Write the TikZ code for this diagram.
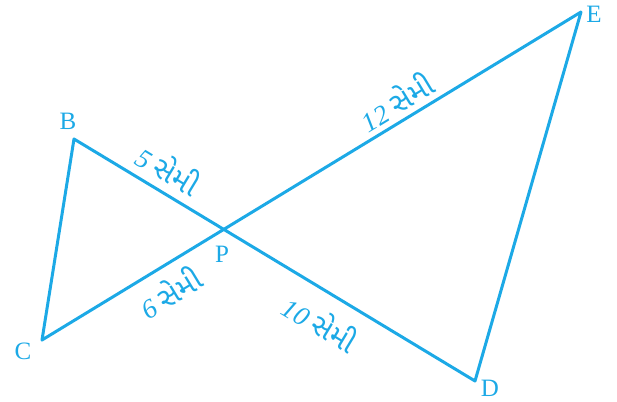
\documentclass[tikz,border=0pt]{standalone}
\usepackage{fontspec}
\setmainfont{Liberation Serif}
\newfontfamily\gujfont[Script=Gujarati,Scale=1.1]{Noto Sans Gujarati UI}
\usetikzlibrary{calc,intersections}
\definecolor{skyline}{HTML}{1CA9E6}

\newcommand{\cmlen}[1]{\textit{#1} {\gujfont સેમી}}

\begin{document}
\begin{tikzpicture}[x=1pt,y=-1pt,
  seg/.style={draw=skyline,line width=3pt,line join=round},
  vtx/.style={text=skyline,font=\fontsize{25}{28}\selectfont,inner sep=0pt},
  len/.style={text=skyline,font=\fontsize{27}{30}\selectfont,inner sep=0pt}]
\useasboundingbox (0,0) rectangle (617,401);
\coordinate (B) at (74,139);
\coordinate (C) at (42,340);
\coordinate (D) at (475,381);
\coordinate (E) at (581,12);
\path[name path=bd] (B) -- (D);
\path[name path=ce] (C) -- (E);
\path[name intersections={of=bd and ce,by=P}];
% triangles
\draw[seg] (C) -- (B) -- (D) -- (E) -- cycle;
% vertex labels
\node[vtx] (lB) at (68,121) {B};
\node[vtx] (lC) at (23,351) {C};
\node[vtx] (lD) at (490,388) {D};
\node[vtx] (lE) at (594,14) {E};
\node[vtx] (lP) at (222,254) {P};
% lengths
\node[len,rotate=-31.1] (l5) at (169,169) {\cmlen{5}};
\node[len,rotate=31.3] (l12) at (396,101) {\cmlen{12}};
\node[len,rotate=-31.1] (l10) at (321,323) {\cmlen{10}};
\node[len,rotate=31.3] (l6) at (170,292) {\cmlen{6}};
\end{tikzpicture}
\end{document}
